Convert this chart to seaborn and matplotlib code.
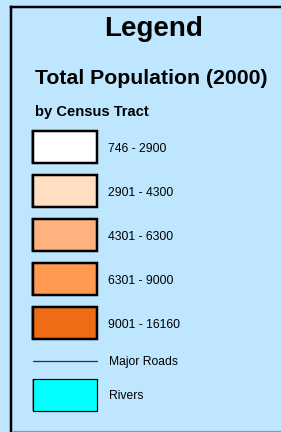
import matplotlib
matplotlib.use("Agg")
import matplotlib.pyplot as plt
import seaborn as sns

# legend classes (population by census tract, 2000)
class_labels = ["746 - 2900", "2901 - 4300", "4301 - 6300", "6301 - 9000", "9001 - 16160"]
class_colors = ["#FFFFFF", "#FFDEC2", "#FFB27E", "#FF9A50", "#EE6C16"]
road_label = "Major Roads"
river_label = "Rivers"
river_color = "#00FFFF"

sns.set_theme(style="white")
plt.rcParams["font.family"] = ["Liberation Sans", "DejaVu Sans"]
plt.rcParams["text.color"] = "black"

bg = "#BEE6FF"
fig = plt.figure(figsize=(2.81, 4.32), dpi=100, facecolor=bg)
ax = fig.add_axes([0, 0, 1, 1])
ax.set_facecolor(bg)
ax.set_xlim(0, 281)
ax.set_ylim(432, 0)
ax.axis("off")

px = 0.72  # one pixel in points

# frame
ax.plot([11, 11], [7, 432], color="black", lw=2.5 * px, solid_capstyle="projecting")
ax.plot([11, 281], [7, 7], color="black", lw=2.5 * px, solid_capstyle="projecting")
ax.plot([12, 281], [430.5, 430.5], color="#8A9AA8", lw=1.2 * px)

# titles
ax.text(154, 29, "Legend", ha="center", va="center", fontsize=20, fontweight="bold")
ax.text(35, 78, "Total Population (2000)", ha="left", va="center", fontsize=15.3, fontweight="bold")
ax.text(35, 112, "by Census Tract", ha="left", va="center", fontsize=10.6, fontweight="bold")

box_left, box_w, box_h = 33, 64, 32
first_y, step = 147, 44.1
ys = [first_y + i * step for i in range(len(class_labels))]

# drop shadows then class boxes
ax.barh(ys, box_w, left=box_left - 1.5, height=box_h, color="#8A9AA8",
        edgecolor="#8A9AA8", linewidth=2 * px, zorder=2)
ax.barh(ys, box_w, left=box_left, height=box_h, color=class_colors,
        edgecolor="black", linewidth=2.5 * px, zorder=3)
for y, lab in zip(ys, class_labels):
    ax.text(108, y + 1.5, lab, ha="left", va="center", fontsize=8.7, zorder=4)

# roads
road_y = 360.5
ax.plot([box_left, box_left + box_w], [road_y, road_y], color="#333333", lw=1.3 * px)
ax.text(109, road_y + 1.5, road_label, ha="left", va="center", fontsize=8.7)

# rivers
river_y = 394.5
ax.barh([river_y], box_w, left=box_left - 1, height=box_h, color="#8A9AA8",
        linewidth=0, zorder=2)
ax.barh([river_y], box_w, left=box_left, height=box_h, color=river_color,
        edgecolor="black", linewidth=1.2 * px, zorder=3)
ax.text(109, river_y + 1.5, river_label, ha="left", va="center", fontsize=8.7)

fig.savefig("out.png", dpi=100, facecolor=bg)
